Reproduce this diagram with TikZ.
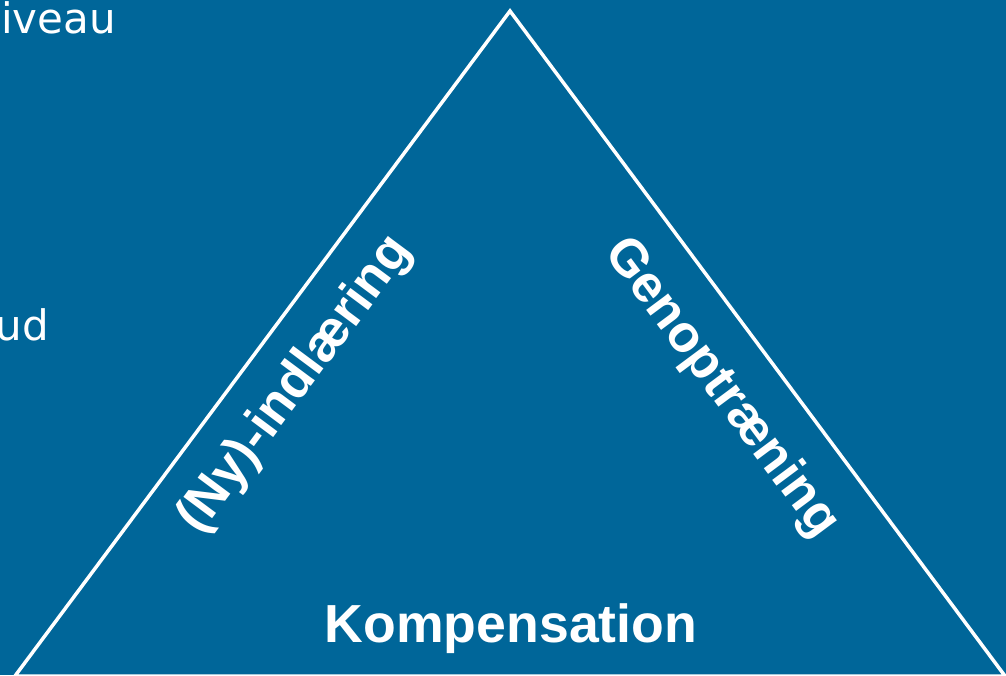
\documentclass[tikz,border=0pt]{standalone}
\usepackage{fontspec}
\setmainfont{Liberation Sans}
\newfontfamily\bodyfont{DejaVu Sans}
\definecolor{bgblue}{RGB}{0,102,153}
\begin{document}
\begin{tikzpicture}[x=1pt,y=-1pt,
  side/.style={draw=white,line width=3.5pt,line join=miter},
  lab/.style={text=white,font=\bfseries\fontsize{52}{60}\selectfont,inner sep=0pt},
  body/.style={text=white,font=\bodyfont\fontsize{42}{50}\selectfont,inner sep=0pt,anchor=base east}]
\useasboundingbox (0,0) rectangle (1006,675);
\clip (0,0) rectangle (1006,675);
\fill[bgblue] (0,0) rectangle (1006,675);
\coordinate (apex) at (510,11);
\coordinate (bl) at (15,676);
\coordinate (br) at (1005,676);
\draw[side] (apex) -- (bl) -- (br) -- cycle;
\node[body] (niv) at (116,33) {niveau};
\node[body] (ud) at (49,340) {ud};
\node[lab,anchor=base,font=\bfseries\fontsize{53.6}{60}\selectfont] (komp) at (511,642) {Kompensation};
\node[lab,rotate=53.35] (ny) at (296,385) {(Ny)-indlæring};
\node[lab,rotate=-53.35] (gen) at (721,388) {Genoptræning};
\end{tikzpicture}
\end{document}
